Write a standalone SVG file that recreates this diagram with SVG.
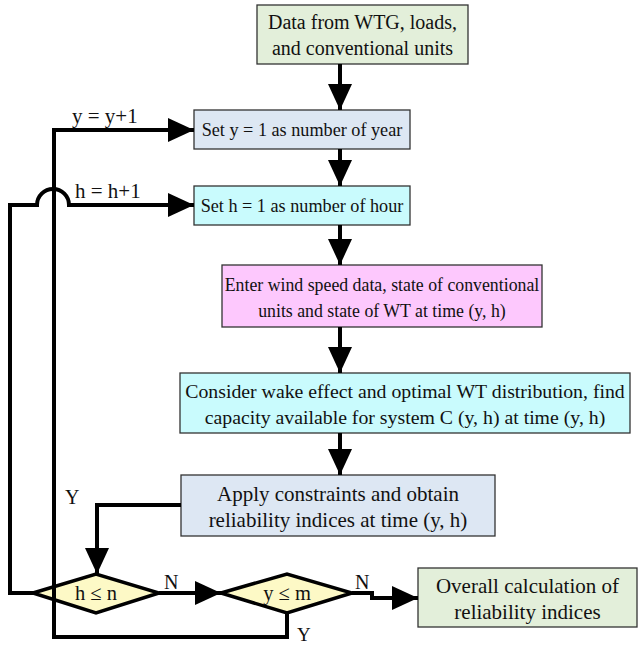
<svg xmlns="http://www.w3.org/2000/svg" width="642" height="646" viewBox="0 0 642 646">
  <style>
    .box { stroke: #333; stroke-width: 1.3; }
    .dia { fill: #fdf9c6; stroke: #000; stroke-width: 3.5; }
    text { font-family: "Liberation Serif", "Times New Roman", Times, serif; font-size: 19.5px; fill: #111; }
    .lbl { text-anchor: middle; }
    .wire { fill: none; stroke: #000; stroke-width: 4; }
    .green { fill: #e3efda; }
    .blue { fill: #dde7f3; }
    .cyan { fill: #c9fbfd; }
    .pink { fill: #fdc8fd; }
  </style>
  <defs>
    <marker id="head" markerUnits="userSpaceOnUse" markerWidth="26" markerHeight="24" viewBox="0 0 26 24" refX="26" refY="12" orient="auto">
      <path d="M0,0 L26,12 L0,24 Z" fill="#000"/>
    </marker>
  </defs>

  <!-- process boxes -->
  <g id="data">
    <rect class="box green" x="257" y="5" width="211" height="59"/>
    <text class="lbl" x="362.5" y="29" style="font-size:20px">Data from WTG, loads,</text>
    <text class="lbl" x="362.5" y="55" style="font-size:20px">and conventional units</text>
  </g>
  <g id="setYear">
    <rect class="box blue" x="194" y="110" width="216" height="39"/>
    <text class="lbl" x="302" y="136" style="font-size:18.2px">Set y = 1 as number of year</text>
  </g>
  <g id="setHour">
    <rect class="box cyan" x="194" y="186" width="216" height="39"/>
    <text class="lbl" x="302" y="212" style="font-size:18.2px">Set h = 1 as number of hour</text>
  </g>
  <g id="enterData">
    <rect class="box pink" x="222" y="265" width="320" height="62"/>
    <text class="lbl" x="382" y="291" style="font-size:17.8px">Enter wind speed data, state of conventional</text>
    <text class="lbl" x="382" y="317" style="font-size:17.8px">units and state of WT at time (y, h)</text>
  </g>
  <g id="capacity">
    <rect class="box cyan" x="180" y="373" width="450" height="60"/>
    <text class="lbl" x="405" y="398" style="font-size:19.8px">Consider wake effect and optimal WT distribution, find</text>
    <text class="lbl" x="405" y="424" style="font-size:19.8px">capacity available for system C (y, h) at time (y, h)</text>
  </g>
  <g id="constraints">
    <rect class="box blue" x="181" y="475" width="314" height="61"/>
    <text class="lbl" x="338" y="501" style="font-size:21px">Apply constraints and obtain</text>
    <text class="lbl" x="338" y="527" style="font-size:21px">reliability indices at time (y, h)</text>
  </g>
  <g id="hourCheck">
    <polygon class="dia" points="33,593 96,574 159,593 96,613"/>
    <text class="lbl" x="96" y="600" style="font-size:20.5px">h ≤ n</text>
  </g>
  <g id="yearCheck">
    <polygon class="dia" points="221,593 287,574 352,593 287,613"/>
    <text class="lbl" x="287" y="600" style="font-size:20.5px">y ≤ m</text>
  </g>
  <g id="overall">
    <rect class="box green" x="418" y="568" width="219" height="59"/>
    <text class="lbl" x="527.5" y="593" style="font-size:21px">Overall calculation of</text>
    <text class="lbl" x="527.5" y="619" style="font-size:21px">reliability indices</text>
  </g>

  <!-- connectors -->
  <g id="connectors">
    <line class="wire" x1="340" y1="64" x2="340" y2="110" marker-end="url(#head)"/>
    <line class="wire" x1="340" y1="149" x2="340" y2="186" marker-end="url(#head)"/>
    <line class="wire" x1="340" y1="225" x2="340" y2="265" marker-end="url(#head)"/>
    <line class="wire" x1="340" y1="327" x2="340" y2="373" marker-end="url(#head)"/>
    <line class="wire" x1="340" y1="433" x2="340" y2="475" marker-end="url(#head)"/>
    <!-- Y branch back into the hour check -->
    <polyline class="wire" points="181,505 97,505 97,574" marker-end="url(#head)"/>
    <!-- hour loop, hopping over the year loop -->
    <path class="wire" d="M33,593 H10 V205 H37 A16,16 0 0 1 69,205 H194" marker-end="url(#head)"/>
    <!-- year loop -->
    <path class="wire" d="M287,613 V637 H54 V130 H194" marker-end="url(#head)"/>
    <line class="wire" x1="159" y1="593" x2="221" y2="593" marker-end="url(#head)"/>
    <polyline class="wire" points="352,593 372,593 372,598 418,598" marker-end="url(#head)"/>
  </g>

  <!-- branch labels -->
  <g id="labels">
    <text x="72" y="123" style="font-size:21px">y = y+1</text>
    <text x="75" y="198" style="font-size:21px">h = h+1</text>
    <text x="65" y="504" style="font-size:20px">Y</text>
    <text x="164" y="589" style="font-size:20px">N</text>
    <text x="355" y="589" style="font-size:20px">N</text>
    <text x="297" y="641" style="font-size:19px">Y</text>
  </g>
</svg>
